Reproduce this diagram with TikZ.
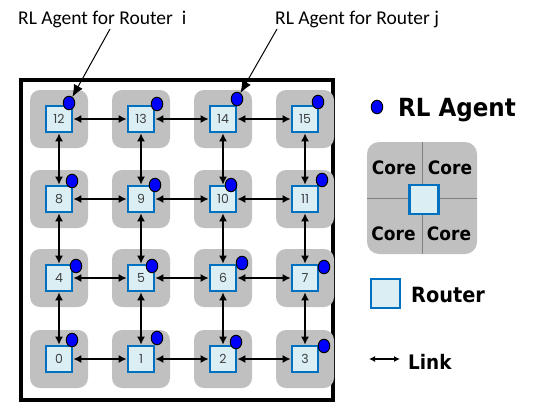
\documentclass[tikz,border=0pt]{standalone}
\usepackage{fontspec}
\usetikzlibrary{arrows.meta,shapes.geometric}
\setmainfont{Carlito}
\newfontfamily\numfont{Poppins}
\newfontfamily\legfont[FakeStretch=0.92]{DejaVu Sans}
\definecolor{tilegray}{HTML}{C0C0C0}
\definecolor{rborder}{HTML}{0070C0}
\definecolor{rfill}{HTML}{DAEEF3}
\definecolor{agentblue}{HTML}{0000FF}
\definecolor{numgray}{HTML}{404040}
\definecolor{divgray}{HTML}{808080}
\begin{document}
\begin{tikzpicture}[x=1pt,y=-1pt,
  tile/.style={fill=tilegray, rounded corners=10pt, minimum size=58pt, inner sep=0pt, draw=none},
  router/.style={draw=rborder, line width=2.8pt, fill=rfill, minimum size=26pt, inner sep=0pt,
     font=\numfont\fontsize{12.5}{12.5}\selectfont, text=numgray},
  agent/.style={ellipse, draw=black, line width=1pt, fill=agentblue, minimum width=11.5pt, minimum height=13.5pt, inner sep=0pt},
  link/.style={line width=1.3pt, {Latex[length=8pt,width=8pt]}-{Latex[length=8pt,width=8pt]}},
  leader/.style={line width=1pt, -{Latex[length=12pt,width=10pt]}},
  toplabel/.style={font=\fontsize{19.5}{19.5}\selectfont, inner sep=0pt, anchor=base west},
  legtext/.style={font=\legfont\bfseries\fontsize{#1}{#1}\selectfont, inner sep=0pt},
]
\useasboundingbox (0,0) rectangle (540,407);

% frame
\node[draw, line width=4pt, minimum width=312pt, minimum height=320pt, inner sep=0pt] (frame) at (177,240) {};

% tiles and routers
\foreach \i/\x/\y in {0/59/359,1/141/359,2/223/359,3/305/359,
                      4/59/278,5/141/278,6/223/278,7/305/278,
                      8/59/199,9/141/199,10/223/199,11/305/199,
                      12/59/119,13/141/119,14/223/119,15/305/119}{
  \node[tile] (t\i) at (\x,\y) {};
  \node[router] (r\i) at (\x,\y) {\i};
}

% links
\foreach \a/\b in {0/1,1/2,2/3,4/5,5/6,6/7,8/9,9/10,10/11,12/13,13/14,14/15,
                   0/4,4/8,8/12,1/5,5/9,9/13,2/6,6/10,10/14,3/7,7/11,11/15}{
  \draw[link] (r\a) -- (r\b);
}

% agents
\foreach \i/\dx/\dy in {0/13/-19,1/16/-21,2/13/-17,3/19/-13,
                        4/17/-12,5/11/-12,6/19/-15,7/19/-11,
                        8/13/-18,9/14/-14,10/8/-14,11/17/-19,
                        12/10/-16,13/16/-15,14/14/-20,15/13/-17}{
  \node[agent] (a\i) at ([shift={(\dx,\dy)}]r\i.center) {};
}

% top labels and leaders
\node[toplabel] (lbi) at (18,24) {RL Agent for Router\ \ i};
\node[toplabel] (lbj) at (275,24) {RL Agent for Router j};
\coordinate (ls1) at (110,29);
\coordinate (ls2) at (277,29);
\draw[leader] (ls1) -- (a12);
\draw[leader] (ls2) -- (a14);

% legend: RL agent
\node[agent] (la) at (377,107) {};
\node[legtext=25, anchor=base west] (lat) at (398,116) {RL Agent};

% legend: core tile
\node[fill=tilegray, rounded corners=12pt, minimum width=110pt, minimum height=112pt, inner sep=0pt] (ct) at (422,198) {};
\draw[divgray, line width=1pt] (ct.north) -- (ct.south);
\draw[divgray, line width=1pt] (ct.west) -- (ct.east);
\node[router, minimum size=29pt] (lr) at (424,199.5) {};
\node[legtext=18.5] (c1) at (394,168) {Core};
\node[legtext=18.5] (c2) at (450,168) {Core};
\node[legtext=18.5] (c3) at (393.5,234) {Core};
\node[legtext=18.5] (c4) at (449,234) {Core};

% legend: router
\node[router, minimum size=29pt] (lrb) at (385.5,293.5) {};
\node[legtext=21, anchor=base west] (lrt) at (411,302) {Router};

% legend: link
\coordinate (lk1) at (369,359);
\coordinate (lk2) at (400,359);
\draw[line width=1.3pt, {Latex[length=6pt,width=6pt]}-{Latex[length=6pt,width=6pt]}] (lk1) -- (lk2);
\node[legtext=20, anchor=base west] (lkt) at (408,369) {Link};
\end{tikzpicture}
\end{document}
